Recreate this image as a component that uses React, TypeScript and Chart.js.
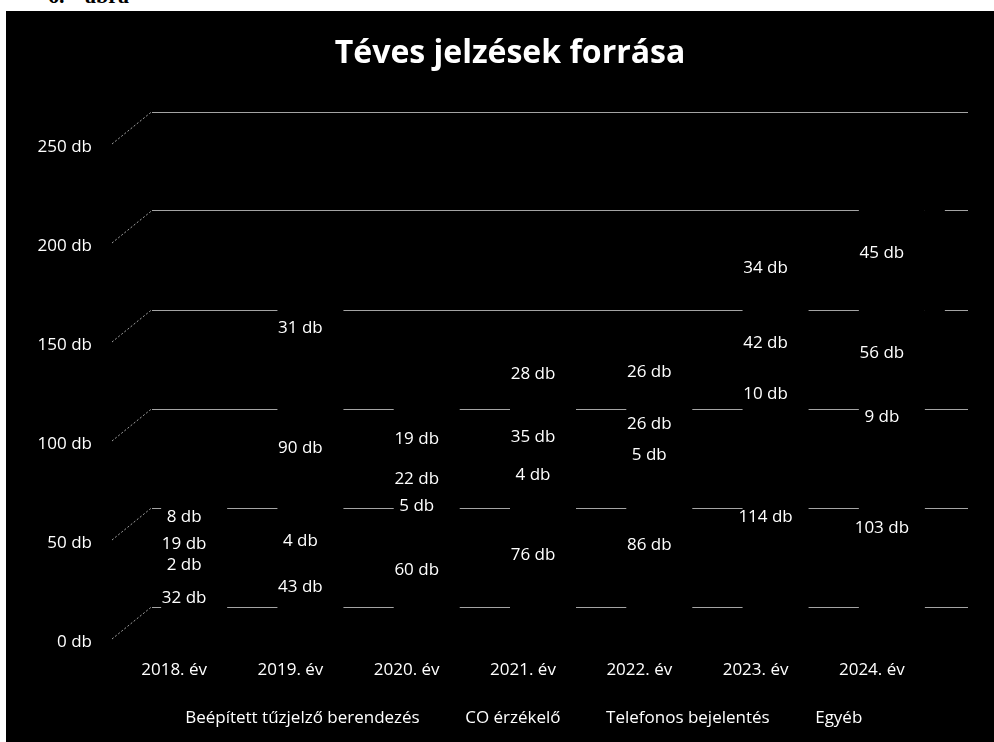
import React, { useEffect, useRef } from "react";
import { Chart, registerables } from "chart.js";

Chart.register(...registerables);

const categories = ["2018. év", "2019. év", "2020. év", "2021. év", "2022. év", "2023. év", "2024. év"];
const seriesNames = ["Beépített tűzjelző berendezés", "CO érzékelő", "Telefonos bejelentés", "Egyéb"];
const beepitett = [32, 43, 60, 76, 86, 114, 103];
const coErzekelo = [2, 4, 5, 4, 5, 10, 9];
const telefonos = [19, 90, 22, 35, 26, 42, 56];
const egyeb = [8, 31, 19, 28, 26, 34, 45];
const yTicks = [0, 50, 100, 150, 200, 250];
const titleText = "Téves jelzések forrása";

const FONT = "'Open Sans', 'Noto Sans', sans-serif";

const threeDPlugin = {
  id: "threeD",
  afterDatasetsDraw(chart: any) {
    const ctx = chart.ctx;
    const xs = chart.scales.x;
    const ys = chart.scales.y;
    const backDy = -23.5;
    const backLeft = xs.left + 36;
    const backRight = xs.right + 38;
    ctx.save();
    // back wall grid lines
    ctx.strokeStyle = "rgba(205,205,205,0.8)";
    ctx.lineWidth = 1;
    yTicks.forEach((v) => {
      const y = Math.round(ys.getPixelForValue(v) + backDy) + 0.5;
      ctx.beginPath();
      ctx.moveTo(backLeft, y);
      ctx.lineTo(backRight, y);
      ctx.stroke();
    });
    // occluders (the black 3D bars hide the back lines)
    ctx.fillStyle = "#000";
    const datasets = chart.data.datasets;
    categories.forEach((_, j) => {
      let total = 0;
      datasets.forEach((d: any) => (total += d.data[j]));
      const cx = xs.getPixelForValue(j) + 20;
      const top = ys.getPixelForValue(total) + backDy + 3;
      const bottom = ys.getPixelForValue(0) + backDy + 3;
      ctx.fillRect(cx - 33, top, 66, bottom - top);
      if (j === categories.length - 1) {
        const faceBottom = ys.getPixelForValue(Math.max(total - 70, 0)) + backDy;
        ctx.fillRect(cx + 33, top, 20, faceBottom - top);
      }
    });
    // diagonal floor/wall lines
    ctx.setLineDash([2, 2]);
    ctx.strokeStyle = "rgba(200,200,200,0.8)";
    yTicks.forEach((v) => {
      const yb = ys.getPixelForValue(v) + backDy;
      const yf = ys.getPixelForValue(v) + 12 - 3;
      ctx.beginPath();
      ctx.moveTo(xs.left - 4, yf);
      ctx.lineTo(backLeft, yb);
      ctx.stroke();
    });
    ctx.setLineDash([]);
    // data labels
    ctx.fillStyle = "#ffffff";
    ctx.font = `17px ${FONT}`;
    ctx.textAlign = "center";
    ctx.textBaseline = "middle";
    categories.forEach((_, j) => {
      let base = 0;
      datasets.forEach((d: any) => {
        const v = d.data[j];
        const y = ys.getPixelForValue(base + v / 2);
        const x = xs.getPixelForValue(j) + 10;
        ctx.fillText(`${v} db`, x, y);
        base += v;
      });
    });
    // title
    ctx.font = `bold 32px ${FONT}`;
    ctx.textBaseline = "alphabetic";
    ctx.fillText(titleText, 492, 52);
    ctx.restore();
  },
};

export default function App() {
  const ref = useRef<HTMLCanvasElement | null>(null);
  useEffect(() => {
    if (!ref.current) return;
    const chart = new Chart(ref.current, {
      type: "bar",
      data: {
        labels: categories,
        datasets: [
          { label: seriesNames[0], data: beepitett, backgroundColor: "#000", borderWidth: 0 },
          { label: seriesNames[1], data: coErzekelo, backgroundColor: "#000", borderWidth: 0 },
          { label: seriesNames[2], data: telefonos, backgroundColor: "#000", borderWidth: 0 },
          { label: seriesNames[3], data: egyeb, backgroundColor: "#000", borderWidth: 0 },
        ],
      },
      options: {
        responsive: false,
        animation: false,
        layout: { padding: { top: 124, bottom: 5, left: 0, right: 0 } },
        plugins: {
          title: { display: false },
          tooltip: { enabled: false },
          legend: {
            position: "bottom",
            labels: {
              color: "#ffffff",
              boxWidth: 27,
              boxHeight: 12,
              padding: 10,
              font: { family: FONT, size: 17 },
            },
          },
        },
        scales: {
          x: {
            stacked: true,
            grid: { display: false, drawTicks: false },
            border: { display: false },
            ticks: { color: "#ffffff", font: { family: FONT, size: 17 }, padding: 30, maxRotation: 0 },
            afterFit: (s: any) => { s.height = 70; },
          },
          y: {
            stacked: true,
            min: 0,
            max: 250,
            grid: { display: false, drawTicks: false },
            border: { display: false },
            ticks: {
              stepSize: 50,
              color: "#ffffff",
              font: { family: FONT, size: 17 },
              padding: 24,
              labelOffset: 12,
              callback: (v: any) => `${v} db`,
            },
            afterFit: (s: any) => { s.width = 98; },
          },
          yR: {
            position: "right",
            display: true,
            grid: { display: false, drawTicks: false },
            border: { display: false },
            ticks: { display: false },
            afterFit: (s: any) => { s.width = 64; },
          },
        },
      },
      plugins: [threeDPlugin],
    } as any);
    return () => chart.destroy();
  }, []);

  return (
    <div style={{ position: "absolute", left: 0, top: 0, width: 994, height: 742, background: "#fff", overflow: "hidden" }}>
      <span style={{ position: "absolute", left: 48, top: -15, font: "bold 22px 'Liberation Serif', serif", lineHeight: "22px", color: "#000" }}>6.</span>
      <span style={{ position: "absolute", left: 85, top: -15, font: "bold 22px 'Liberation Serif', serif", lineHeight: "22px", color: "#000" }}>ábra</span>
      <div style={{ position: "absolute", left: 6, top: 11, width: 988, height: 731, background: "#000" }} />
      <canvas ref={ref} width={976} height={731} style={{ position: "absolute", left: 18, top: 11, width: 976, height: 731 }} />
    </div>
  );
}
